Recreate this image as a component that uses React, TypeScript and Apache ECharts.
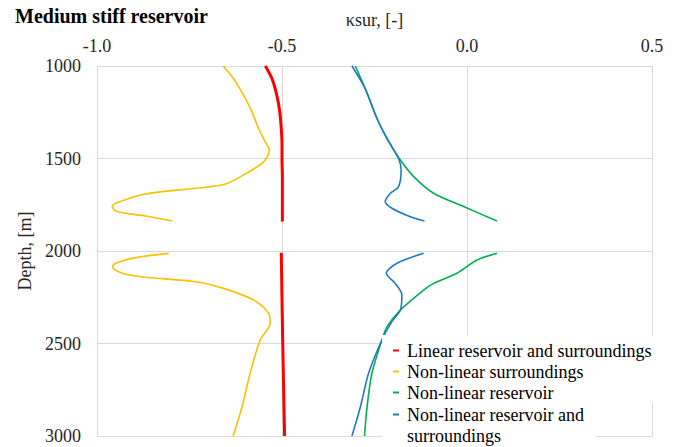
import React, { useEffect, useRef } from "react";
import * as echarts from "echarts";

const seriesNames = [
  "Linear reservoir and surroundings",
  "Non-linear surroundings",
  "Non-linear reservoir",
  "Non-linear reservoir and surroundings",
];
const seriesColors = ["#FF0000", "#FFC000", "#00B050", "#1F78C8"];

const redDepth = [1000, 1069, 1158, 1249, 1339, 1420, 1500, 1600, 1700, 1840, "-", 2010, 2500, 3000];
const redVal = [-0.545, -0.527, -0.514, -0.506, -0.502, -0.5, -0.5, -0.499, -0.499, -0.499, "-", -0.502, -0.498, -0.493];

const yellowDepth = [1000, 1069, 1158, 1249, 1339, 1411, 1456, 1519, 1578, 1638, 1661, 1692, 1742, 1760, 1787, 1811, 1838, "-", 2013, 2036, 2066, 2085, 2120, 2142, 2166, 2202, 2265, 2337, 2391, 2481, 2661, 2842, 3000];
const yellowVal = [-0.659, -0.631, -0.604, -0.581, -0.563, -0.545, -0.534, -0.55, -0.595, -0.653, -0.734, -0.869, -0.95, -0.959, -0.946, -0.869, -0.796, "-", -0.806, -0.896, -0.95, -0.958, -0.932, -0.869, -0.734, -0.658, -0.577, -0.536, -0.532, -0.559, -0.586, -0.608, -0.632];

const greenDepth = [1000, 1123, 1285, 1393, 1500, 1598, 1688, 1760, 1838, "-", 2012, 2049, 2120, 2175, 2211, 2319, 2409, 2481, 2661, 2842, 3000];
const greenVal = [-0.302, -0.275, -0.243, -0.216, -0.183, -0.144, -0.09, -0.009, 0.081, "-", 0.081, 0.027, -0.027, -0.09, -0.117, -0.18, -0.216, -0.23, -0.257, -0.27, -0.277];

const blueDepth = [1000, 1123, 1285, 1393, 1500, 1562, 1652, 1688, 1733, 1769, 1815, 1838, "-", 2012, 2066, 2120, 2175, 2238, 2319, 2382, 2481, 2661, 2842, 3000];
const blueVal = [-0.311, -0.275, -0.243, -0.216, -0.185, -0.178, -0.185, -0.207, -0.221, -0.203, -0.153, -0.115, "-", -0.117, -0.189, -0.218, -0.194, -0.176, -0.18, -0.203, -0.23, -0.266, -0.288, -0.311];

const xTicks = { min: -1.0, max: 0.5, interval: 0.5 };
const yTicks = { min: 1000, max: 3000, interval: 500 };

const FONT = "Liberation Serif";
const labelRich = { t: { fontFamily: FONT, fontSize: 18, color: "#262626" } };

function pairs(vals: any[], depths: any[]) {
  return vals.map((v, i) => [v, depths[i]]);
}

export default function App() {
  const ref = useRef<HTMLDivElement>(null);
  useEffect(() => {
    document.body.style.margin = "0";
    const chart = echarts.init(ref.current!, null, { renderer: "svg" });
    const datas = [
      pairs(redVal, redDepth),
      pairs(yellowVal, yellowDepth),
      pairs(greenVal, greenDepth),
      pairs(blueVal, blueDepth),
    ];
    chart.setOption({
      animation: false,
      backgroundColor: "#ffffff",
      textStyle: { fontFamily: FONT },
      title: {
        text: "Medium stiff reservoir",
        left: 15,
        top: 6,
        padding: 0,
        textStyle: { fontFamily: FONT, fontSize: 20, fontWeight: "bold", color: "#000" },
      },
      grid: { left: 97, right: 23, top: 66, bottom: 11 },
      xAxis: {
        type: "value",
        position: "top",
        min: xTicks.min,
        max: xTicks.max,
        interval: xTicks.interval,
        name: "κsur, [-]",
        nameLocation: "middle",
        nameGap: 37,
        nameTextStyle: { fontFamily: FONT, fontSize: 18, color: "#262626" },
        axisLine: { show: false },
        axisTick: { show: false },
        axisLabel: {
          fontFamily: FONT,
          fontSize: 18,
          color: "#262626",
          margin: 11,
          formatter: (v: number) => "{t|" + v.toFixed(1) + "}",
          rich: labelRich,
        },
        splitLine: { show: true, lineStyle: { color: "#d9d9d9", width: 1 } },
      },
      yAxis: {
        type: "value",
        inverse: true,
        min: yTicks.min,
        max: yTicks.max,
        interval: yTicks.interval,
        name: "Depth, [m]",
        nameLocation: "middle",
        nameGap: 56,
        nameTextStyle: { fontFamily: FONT, fontSize: 18, color: "#262626" },
        axisLine: { show: false },
        axisTick: { show: false },
        axisLabel: {
          fontFamily: FONT,
          fontSize: 18,
          color: "#262626",
          margin: 16,
          formatter: (v: number) => "{t|" + String(v) + "}",
          rich: labelRich,
        },
        splitLine: { show: true, lineStyle: { color: "#d9d9d9", width: 1 } },
      },
      legend: [
        {
          data: seriesNames.slice(0, 3),
          orient: "vertical",
          left: 382,
          top: 335,
          padding: [5, 12, 0, 11],
          itemGap: 0,
          icon: "rect",
          itemWidth: 6,
          itemHeight: 2,
          backgroundColor: "#ffffff",
          textStyle: { fontFamily: FONT, fontSize: 18, color: "#000", lineHeight: 21, padding: [0, 0, 0, 3] },
        },
        {
          data: [seriesNames[3]],
          orient: "vertical",
          left: 382,
          top: 383,
          padding: [0, 12, 0, 11],
          icon: "rect",
          itemWidth: 6,
          itemHeight: 2,
          backgroundColor: "#ffffff",
          formatter: () => "\nNon-linear reservoir and\nsurroundings",
          textStyle: { fontFamily: FONT, fontSize: 18, color: "#000", lineHeight: 21, padding: [0, 0, 0, 3] },
        },
      ],
      series: seriesNames.map((name, i) => ({
        name,
        type: "line",
        data: datas[i],
        showSymbol: false,
        symbol: "none",
        smooth: 0.3,
        connectNulls: false,
        color: seriesColors[i],
        lineStyle: { color: seriesColors[i], width: i === 0 ? 3 : 1.6 },
      })),
    });
    return () => chart.dispose();
  }, []);
  return (
    <div
      ref={ref}
      style={{ position: "absolute", left: 0, top: 0, width: 675, height: 447 }}
    />
  );
}
